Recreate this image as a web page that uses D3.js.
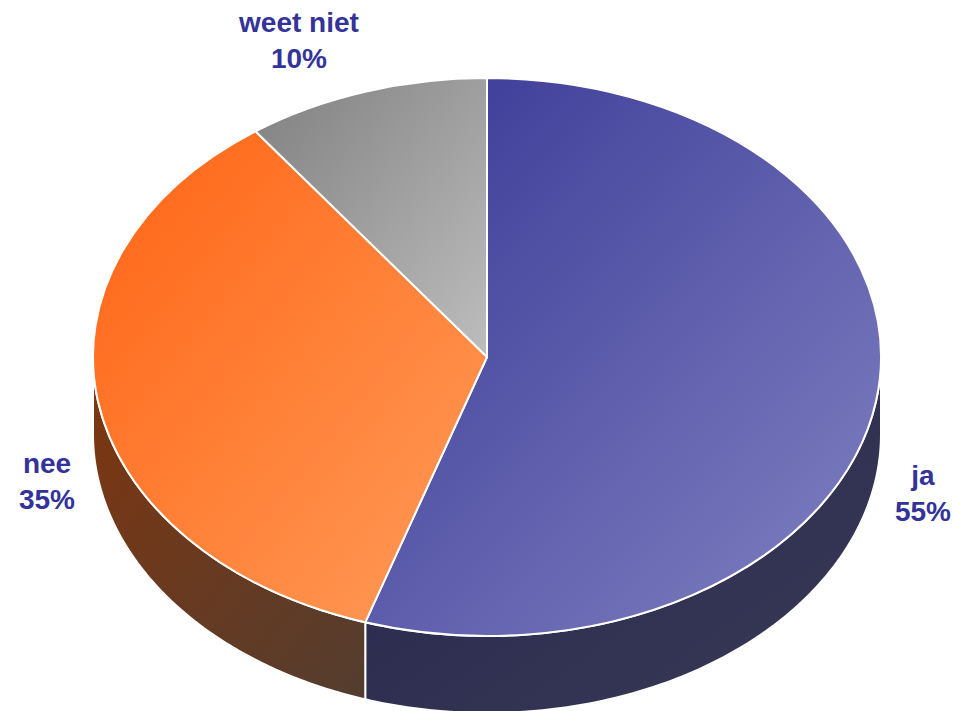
<!DOCTYPE html>
<html>
<head>
<meta charset="utf-8">
<script src="https://cdn.jsdelivr.net/npm/d3@7/dist/d3.min.js"></script>
<style>
  html, body { margin: 0; padding: 0; background: #ffffff; }
  svg { display: block; }
  text { font-family: Arial, "Liberation Sans", sans-serif; font-weight: bold; }
</style>
</head>
<body>
<svg id="chart" width="953" height="711"></svg>
<script>
// Survey answers and their shares (percent)
const categories = ["ja", "nee", "weet niet"];
const values = [55, 35, 10];
const valueLabels = ["55%", "35%", "10%"];

// Fill styles per category: top face gradient and side wall gradient
const topColors = [["#383896", "#8282c2"], ["#ff6414", "#ff9c5a"], ["#808080", "#bdbdbd"]];
const sideColors = [["#26264e", "#393955"], ["#7e3610", "#533d2f"], ["#555555", "#777777"]];

// Label anchor points (centre of the two-line label)
const labelLayout = {
  "ja": [923, 485],
  "nee": [47, 473],
  "weet niet": [299, 32]
};

const W = 953, H = 711;
const cx = 487, cy = 357, rx = 394, ry = 279, depth = 77;
const labelColor = "#333399";

const svg = d3.select("#chart");
const defs = svg.append("defs");

const pie = d3.pie().sort(null).startAngle(0).endAngle(2 * Math.PI);
const slices = pie(values).map((d, i) => ({ ...d, name: categories[i], idx: i }));

// gradients
slices.forEach((d, i) => {
  const gt = defs.append("linearGradient").attr("id", "top" + i)
    .attr("x1", 0).attr("y1", 0).attr("x2", 1).attr("y2", 1);
  gt.append("stop").attr("offset", "0%").attr("stop-color", topColors[i][0]);
  gt.append("stop").attr("offset", "100%").attr("stop-color", topColors[i][1]);
  const gs = defs.append("linearGradient").attr("id", "side" + i)
    .attr("x1", 0).attr("y1", 0).attr("x2", 1).attr("y2", 1);
  gs.append("stop").attr("offset", "0%").attr("stop-color", sideColors[i][0]);
  gs.append("stop").attr("offset", "100%").attr("stop-color", sideColors[i][1]);
});

// ellipse point for a pie angle (0 = 12 o'clock, clockwise)
const ex = a => cx + rx * Math.sin(a);
const ey = a => cy - ry * Math.cos(a);

// side walls: only the front half (angles between PI/2 and 3PI/2) is visible
const lineGen = d3.line().x(p => p[0]).y(p => p[1]);
const sideG = svg.append("g");
slices.forEach(d => {
  const a0 = Math.max(d.startAngle, Math.PI / 2);
  const a1 = Math.min(d.endAngle, 3 * Math.PI / 2);
  if (a1 <= a0) return;
  const n = 120;
  const angles = d3.range(n + 1).map(k => a0 + (a1 - a0) * k / n);
  const top = angles.map(a => [ex(a), ey(a)]);
  const bottom = angles.slice().reverse().map(a => [ex(a), ey(a) + depth]);
  sideG.append("path")
    .attr("d", lineGen(top.concat(bottom)) + "Z")
    .attr("fill", `url(#side${d.idx})`)
    .attr("stroke", "#ffffff")
    .attr("stroke-width", 2)
    .attr("stroke-linejoin", "round");
});

// top faces
const arc = d3.arc().innerRadius(0).outerRadius(rx);
const topG = svg.append("g")
  .attr("transform", `translate(${cx},${cy}) scale(1,${ry / rx})`);
topG.selectAll("path")
  .data(slices)
  .join("path")
  .attr("d", arc)
  .attr("fill", d => `url(#top${d.idx})`)
  .attr("stroke", "#ffffff")
  .attr("stroke-width", 2)
  .attr("stroke-linejoin", "round")
  .attr("vector-effect", "non-scaling-stroke");

// labels
const labelG = svg.append("g");
slices.forEach(d => {
  const [lx, ly] = labelLayout[d.name];
  const t = labelG.append("text")
    .attr("x", lx).attr("y", ly)
    .attr("text-anchor", "middle")
    .attr("fill", labelColor)
    .attr("font-size", 28);
  t.append("tspan").attr("x", lx).attr("dy", 0).text(d.name);
  t.append("tspan").attr("x", lx).attr("dy", 36).text(valueLabels[d.idx]);
});
</script>
</body>
</html>
